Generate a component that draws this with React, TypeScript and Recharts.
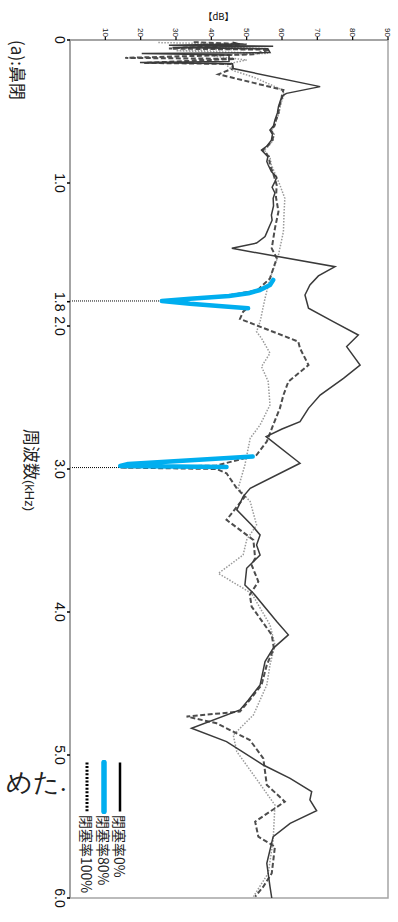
import React from 'react';
import { LineChart, Line, XAxis, YAxis, ReferenceLine, ReferenceArea } from 'recharts';

// frequency axis (kHz) ticks and labels
const freqTicks = [0, 1, 1.83, 2, 3, 4, 5, 6];
const freqTickLabels = ['0', '1.0', '1.8', '2.0', '3.0', '4.0', '5.0', '6.0'];
// level axis (dB) ticks
const dbTicks = [10, 20, 30, 40, 50, 60, 70, 80, 90];

const seriesNames = ['閉塞率0%', '閉塞率80%', '閉塞率100%'];

// [kHz, dB] – closure rate 0 %
const rate0: [number, number][] = [
  [0.015, 46], [0.028, 48], [0.036, 28], [0.044, 57.5], [0.052, 29], [0.062, 56],
  [0.088, 56.6], [0.094, 20.3], [0.105, 45], [0.15, 45], [0.158, 19.8], [0.166, 46],
  [0.2, 46.2], [0.326, 70.8], [0.373, 61.3], [0.385, 60.4], [0.42, 59.6], [0.466, 59],
  [0.51, 58.7], [0.56, 58], [0.6, 57.6], [0.63, 56.6], [0.66, 57.3], [0.7, 57],
  [0.74, 55.8], [0.77, 54.2], [0.8, 55.4], [0.816, 56], [0.85, 55.7], [0.874, 56.1],
  [0.92, 57], [0.96, 58.5], [0.99, 58], [1.03, 57.2], [1.07, 58], [1.107, 57.5],
  [1.16, 57.6], [1.224, 57], [1.26, 57.2], [1.294, 56.6], [1.34, 55.8], [1.375, 55.2],
  [1.42, 52.8], [1.457, 45.8], [1.585, 75], [1.65, 70.3], [1.713, 67.9], [1.783, 66.5],
  [1.876, 67.5], [1.97, 74.5], [2.063, 81.6], [2.144, 78.3], [2.273, 82.1], [2.366, 77.4],
  [2.483, 70.8], [2.576, 67.5], [2.669, 65.1], [2.72, 60], [2.774, 55.5], [2.96, 65.1],
  [3.135, 51], [3.193, 49], [3.286, 47.2], [3.391, 51.4], [3.461, 53.8], [3.531, 52.8],
  [3.601, 53.8], [3.694, 50], [3.811, 49.5], [3.869, 51.9], [4.067, 58.5], [4.16, 61.8],
  [4.254, 57.5], [4.347, 55.2], [4.464, 54.2], [4.51, 53.8], [4.615, 50.5], [4.685, 48.1],
  [4.813, 34.4], [4.906, 44.3], [5.07, 54.7], [5.163, 62.3], [5.256, 68.4], [5.314, 67.9],
  [5.39, 69.8], [5.478, 62.3], [5.571, 57.5], [5.757, 55.7], [5.921, 56.6], [6.0, 57.1],
];

// [kHz, dB] – closure rate 80 %
const rate80: [number, number][] = [
  [0.015, 35], [0.03, 50], [0.06, 28], [0.068, 56.5], [0.1, 52], [0.125, 15.6],
  [0.132, 46.7], [0.16, 21], [0.168, 46], [0.2, 46], [0.24, 42], [0.3, 52], [0.35, 60.4],
  [0.385, 60], [0.42, 59.8], [0.466, 59.2], [0.51, 59], [0.56, 58.3], [0.6, 57.9],
  [0.63, 56.8], [0.66, 57.6], [0.7, 57.3], [0.74, 56], [0.77, 54.5], [0.8, 55.7],
  [0.816, 56.3], [0.874, 56.6], [0.94, 57.6], [1.014, 58.5], [1.1, 58.3], [1.2, 59],
  [1.317, 58], [1.457, 57.1], [1.527, 58.5], [1.667, 56.6], [1.75, 53], [1.79, 44],
  [1.825, 26], [1.86, 42], [1.88, 50], [1.9, 49], [1.95, 48.1], [2.109, 64.6],
  [2.156, 65.1], [2.273, 67.5], [2.389, 61.8], [2.483, 60.4], [2.576, 59.4], [2.692, 57.5],
  [2.808, 55.7], [2.902, 52.8], [2.976, 41.5], [2.99, 14.2], [3.0, 41.5], [3.03, 44.3],
  [3.135, 47.2], [3.193, 49.5], [3.356, 44.3], [3.496, 51.9], [3.624, 52.4], [3.671, 51.4],
  [3.787, 53.3], [3.88, 50.9], [3.962, 51.4], [4.16, 57.1], [4.254, 57.7], [4.37, 55.7],
  [4.51, 54.2], [4.615, 50.9], [4.696, 48.1], [4.731, 33], [4.778, 41.5], [4.895, 50.9],
  [5.023, 54.7], [5.209, 55.7], [5.326, 60.8], [5.466, 52.4], [5.571, 53.3], [5.641, 58],
  [5.827, 57.1], [5.921, 54.7], [5.99, 52.4],
];

// [kHz, dB] – closure rate 100 %
const rate100: [number, number][] = [
  [0.018, 25], [0.028, 48], [0.04, 32], [0.06, 55.5], [0.075, 30], [0.093, 56],
  [0.11, 40], [0.14, 50], [0.17, 44], [0.214, 46.2], [0.26, 52], [0.35, 60.2],
  [0.385, 60.6], [0.42, 60], [0.466, 59.5], [0.51, 59.2], [0.56, 58.4], [0.6, 58],
  [0.63, 57], [0.66, 57.8], [0.7, 57.5], [0.74, 56.3], [0.77, 55], [0.82, 56.6],
  [0.874, 57], [1.014, 59.4], [1.107, 60.8], [1.2, 60.6], [1.34, 60.4], [1.503, 59],
  [1.667, 56.6], [1.806, 55.2], [1.97, 53.8], [2.04, 52.8], [2.086, 54.2], [2.19, 56.6],
  [2.284, 54.2], [2.389, 56.1], [2.552, 56.6], [2.692, 53.8], [2.785, 51], [2.972, 49.5],
  [3.135, 47.6], [3.228, 51], [3.391, 52.8], [3.496, 50], [3.601, 49], [3.73, 42],
  [3.87, 51.4], [4.09, 56.6], [4.23, 58], [4.37, 56.6], [4.51, 55.7], [4.72, 51.9],
  [4.86, 46.2], [4.976, 47.2], [5.186, 53.3], [5.35, 58], [5.594, 57.5], [5.827, 56.1],
  [5.99, 51.9],
];

// highlighted notches of the 80 % curve
const notch1: [number, number][] = [
  [1.678, 57.5], [1.713, 56.6], [1.748, 53.8], [1.771, 50.5], [1.79, 45], [1.81, 34],
  [1.825, 26], [1.845, 34], [1.862, 43], [1.876, 50.4],
];
const notch2: [number, number][] = [
  [2.913, 51.7], [2.941, 33], [2.965, 16.5], [2.979, 14.2], [2.986, 44.3],
];

// dotted guides from the axis to the notch tips
const guides: [number, number][] = [[1.825, 26], [2.99, 14.2]];

const rows = (pts: [number, number][]) => pts.map(([f, db]) => ({ f, db }));

const FONT = "'Liberation Sans', Arial, 'Noto Sans CJK JP', sans-serif";
const CJK = "'Noto Sans CJK JP', 'Liberation Sans', sans-serif";

const W = 922;
const H = 398;

const legendRows = [
  { v: 277.5, stroke: '#000', width: 2.5, dash: undefined as string | undefined, cap: 'butt' },
  { v: 294.3, stroke: '#00AEEF', width: 5.5, dash: undefined as string | undefined, cap: 'round' },
  { v: 310.8, stroke: '#000', width: 3, dash: '2 1.6', cap: 'butt' },
];

export default function App() {
  return (
    <div
      style={{
        position: 'absolute',
        left: 0,
        top: 0,
        width: 398,
        height: 922,
        overflow: 'hidden',
        background: '#fff',
        fontFamily: FONT,
      }}
    >
      <div
        style={{
          position: 'absolute',
          left: 0,
          top: 0,
          width: W,
          height: H,
          transformOrigin: '0 0',
          transform: `translateX(${H}px) rotate(90deg)`,
        }}
      >
        <LineChart width={W} height={H} margin={{ top: 10, right: 24, bottom: 0, left: 0 }}>
          <XAxis
            dataKey="f"
            type="number"
            domain={[0, 6]}
            ticks={freqTicks}
            interval={0}
            tickFormatter={(v: number) => freqTickLabels[freqTicks.indexOf(v)] ?? String(v)}
            height={70}
            tickSize={3}
            tickMargin={2}
            tick={{ fontSize: 14, fill: '#111', fontFamily: FONT }}
            axisLine={{ stroke: '#9c9c9c', strokeWidth: 1.5 }}
            tickLine={{ stroke: '#000', strokeWidth: 1.5 }}
          />
          <YAxis
            type="number"
            domain={[0, 90]}
            ticks={dbTicks}
            interval={0}
            width={40}
            tickSize={3}
            tickMargin={0}
            tick={{ fontSize: 8, fill: '#111', fontFamily: FONT }}
            axisLine={{ stroke: '#9c9c9c', strokeWidth: 1.5 }}
            tickLine={{ stroke: '#000', strokeWidth: 1.2 }}
          />
          <ReferenceArea
            x1={0}
            x2={6}
            y1={0}
            y2={90}
            fill="none"
            stroke="#a5a5a5"
            strokeWidth={1.5}
            ifOverflow="visible"
          />
          {guides.map(([f, db]) => (
            <ReferenceLine
              key={f}
              segment={[{ x: f, y: 0 }, { x: f, y: db }]}
              stroke="#000"
              strokeWidth={1}
              strokeDasharray="1 1"
              ifOverflow="visible"
            />
          ))}
          <Line
            data={rows(rate100)}
            dataKey="db"
            name={seriesNames[2]}
            type="linear"
            stroke="#9a9a9a"
            strokeWidth={1.5}
            strokeDasharray="1.5 1.5"
            dot={false}
            activeDot={false}
            isAnimationActive={false}
          />
          <Line
            data={rows(rate80)}
            dataKey="db"
            name={seriesNames[1]}
            type="linear"
            stroke="#4d4d4d"
            strokeWidth={2}
            strokeDasharray="5 2.5"
            dot={false}
            activeDot={false}
            isAnimationActive={false}
          />
          <Line
            data={rows(rate0)}
            dataKey="db"
            name={seriesNames[0]}
            type="linear"
            stroke="#3a3a3a"
            strokeWidth={1.5}
            dot={false}
            activeDot={false}
            isAnimationActive={false}
          />
          <Line
            data={rows(notch1)}
            dataKey="db"
            type="linear"
            stroke="#00AEEF"
            strokeWidth={4.5}
            strokeLinecap="round"
            strokeLinejoin="round"
            dot={false}
            activeDot={false}
            legendType="none"
            isAnimationActive={false}
          />
          <Line
            data={rows(notch2)}
            dataKey="db"
            type="linear"
            stroke="#00AEEF"
            strokeWidth={4.5}
            strokeLinecap="round"
            strokeLinejoin="round"
            dot={false}
            activeDot={false}
            legendType="none"
            isAnimationActive={false}
          />
        </LineChart>

        {/* legend (inside plot, rotated with the chart) */}
        {legendRows.map((r, i) => (
          <React.Fragment key={i}>
            <svg
              width={54}
              height={10}
              style={{ position: 'absolute', left: 760, top: r.v - 5 }}
            >
              <line
                x1={2.5}
                y1={5}
                x2={51.5}
                y2={5}
                stroke={r.stroke}
                strokeWidth={r.width}
                strokeDasharray={r.dash}
                strokeLinecap={r.cap as any}
              />
            </svg>
            <div
              style={{
                position: 'absolute',
                left: 815,
                top: r.v - 8,
                height: 16,
                lineHeight: '16px',
                fontSize: 14,
                color: '#222',
                fontFamily: CJK,
                whiteSpace: 'nowrap',
              }}
            >
              {seriesNames[i]}
            </div>
          </React.Fragment>
        ))}

        {/* frequency axis title */}
        <div
          style={{
            position: 'absolute',
            left: 470,
            top: 365.5,
            transform: 'translate(-50%, -50%)',
            whiteSpace: 'nowrap',
            lineHeight: 1,
            color: '#222',
            fontFamily: CJK,
          }}
        >
          <span style={{ fontSize: 17 }}>周波数</span>
          <span style={{ fontSize: 13, fontFamily: FONT }}>(kHz)</span>
        </div>

        {/* panel caption */}
        <div
          style={{
            position: 'absolute',
            left: 70,
            top: 379.5,
            transform: 'translate(-50%, -50%)',
            whiteSpace: 'nowrap',
            lineHeight: 1,
            fontSize: 17,
            color: '#222',
            fontFamily: CJK,
          }}
        >
          (a):鼻閉
        </div>
      </div>

      {/* dB unit label (upright) */}
      <div
        style={{
          position: 'absolute',
          left: 218.5,
          top: 17,
          transform: 'translate(-50%, -50%)',
          whiteSpace: 'nowrap',
          lineHeight: 1,
          fontSize: 9.5,
          color: '#111',
          fontFamily: CJK,
        }}
      >
        【dB】
      </div>

      {/* fragment of the surrounding document text */}
      <div
        style={{
          position: 'absolute',
          left: 6,
          top: 770,
          whiteSpace: 'nowrap',
          lineHeight: '26px',
          fontSize: 26,
          color: '#222',
          fontFamily: 'serif',
        }}
      >
        めた.
      </div>
    </div>
  );
}
